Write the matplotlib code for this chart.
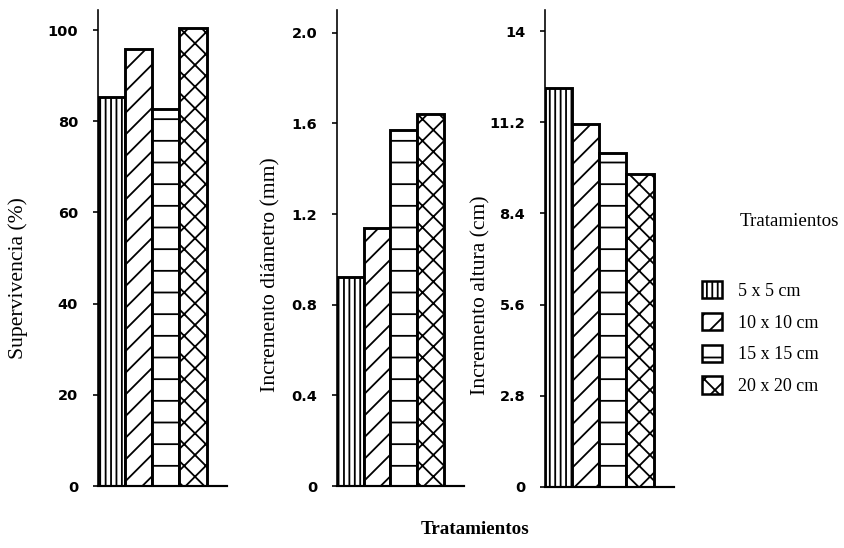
import matplotlib
matplotlib.use("Agg")
import matplotlib.pyplot as plt
from matplotlib.patches import Patch

# Data
treatments = ['5 x 5 cm', '10 x 10 cm', '15 x 15 cm', '20 x 20 cm']
hatches = ['||||', '//', '-', 'xx']

survival = [85.3, 95.8, 82.6, 100.5]
diameter = [0.92, 1.14, 1.57, 1.64]
height = [12.25, 11.15, 10.25, 9.6]

survival_ticks = [0, 20, 40, 60, 80, 100]
survival_labels = ['0', '20', '40', '60', '80', '100']
diameter_ticks = [0, 0.4, 0.8, 1.2, 1.6, 2.0]
diameter_labels = ['0', '0.4', '0.8', '1.2', '1.6', '2.0']
height_ticks = [0, 2.8, 5.6, 8.4, 11.2, 14]
height_labels = ['0', '2.8', '5.6', '8.4', '11.2', '14']

DPI = 130
W, H = 844, 548
plt.rcParams['hatch.linewidth'] = 1.0
serif = ['Liberation Serif', 'DejaVu Serif']

fig = plt.figure(figsize=(W / DPI, H / DPI), dpi=DPI)
fig.patch.set_facecolor('white')


def px_axes(left, right, top=10, bottom=486):
    """Axes from pixel edges of the reference image."""
    return fig.add_axes([left / W, 1 - bottom / H, (right - left) / W, (bottom - top) / H])


def draw_panel(ax, values, ticks, labels, ymax, ylabel, lab_x, lab_y):
    x = list(range(len(values)))
    for xi, v, h in zip(x, values, hatches):
        ax.bar(xi, v, width=1.0, align='edge', facecolor='white', edgecolor='black',
               linewidth=1.6, hatch=h)
    ax.set_xlim(0, 4.75)
    ax.set_ylim(0, ymax)
    ax.set_xticks([])
    ax.set_yticks(ticks)
    ax.set_yticklabels(labels, fontfamily='DejaVu Sans', fontweight='bold', fontsize=8)
    ax.tick_params(axis='y', direction='out', length=3, width=0.9, pad=8)
    for s in ['top', 'right']:
        ax.spines[s].set_visible(False)
    ax.spines['left'].set_linewidth(0.9)
    ax.spines['bottom'].set_linewidth(1.2)
    ax.set_ylabel(ylabel, fontfamily=serif, fontsize=12, ha='center', va='center')
    ax.yaxis.set_label_coords(lab_x, lab_y)


ax1 = px_axes(98, 227)
draw_panel(ax1, survival, survival_ticks, survival_labels, 104.4,
           'Supervivencia (%)', -0.62, 0.437)

ax2 = px_axes(337, 464)
draw_panel(ax2, diameter, diameter_ticks, diameter_labels, 2.10,
           'Incremento diámetro (mm)', -0.52, 0.445)

ax3 = px_axes(545, 674, bottom=487)
draw_panel(ax3, height, height_ticks, height_labels, 14.65,
           'Incremento altura (cm)', -0.50, 0.403)

fig.text(475 / W, 1 - 530 / H, 'Tratamientos', fontfamily=serif, fontweight='bold',
         fontsize=10.5, ha='center', va='center')

# legend
fig.text(740 / W, 1 - 222 / H, 'Tratamientos', fontfamily=serif, fontsize=10.5,
         ha='left', va='center')
handles = [Patch(facecolor='white', edgecolor='black', hatch=h, linewidth=1.4)
           for h in hatches]
fig.legend(handles, treatments, loc='upper left', bbox_to_anchor=(702 / W, 1 - 281 / H),
           frameon=False, prop={'family': serif, 'size': 10}, handlelength=1.1,
           handleheight=1.1, handletextpad=0.9, labelspacing=0.72, borderpad=0,
           borderaxespad=0)

fig.savefig('out.png', dpi=DPI, facecolor='white')
